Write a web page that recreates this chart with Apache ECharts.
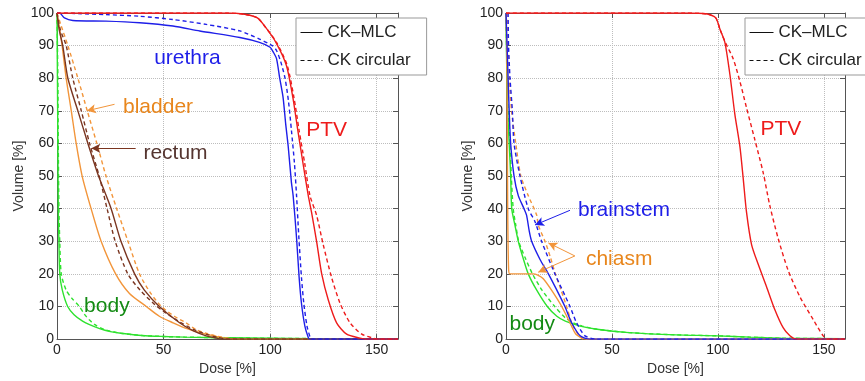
<!DOCTYPE html>
<html><head><meta charset="utf-8">
<script src="https://cdn.jsdelivr.net/npm/echarts@6/dist/echarts.min.js"></script>
<style>html,body{margin:0;padding:0;background:#fff}#c{width:865px;height:381px}</style>
</head><body><div id="c"></div>
<script>
// ---------- data: [dose %, volume %] ----------
// Left panel (prostate)
const ptvMlcL = [[0,100],[80,100],[88,99.6],[94,98.5],[98,95.5],[102.7,91],[107.6,84],[110.7,74],[113,64],[115.4,54],[117.9,44],[119.4,39],[121.8,30],[124.2,20],[127.3,12],[131.2,5],[135.9,1.5],[142.2,0.3],[145,0],[160,0]];
const ptvCircL = [[0,100],[80,100],[88,99.6],[94,98.5],[98,95.5],[103,91],[108,84],[111.2,74],[113.6,64],[116.2,54],[118.7,44],[121.8,38],[124.9,29],[128.8,19],[132.8,11],[137.5,5],[143,1.5],[148.4,0.3],[150,0],[160,0]];
const urethraMlc = [[0,100],[1.2,100],[3.5,98.5],[7.4,97.7],[23,97.5],[38.8,97],[54.4,96],[67,94.5],[85.8,92.5],[95,91],[100,89.5],[101.5,88],[103,86],[104.5,80],[106.1,74],[107.3,66],[108.5,59],[110,48],[110.8,44],[112.4,31],[113.6,19],[114.7,11],[116.3,4],[117.9,0.5],[118.5,0],[160,0]];
const urethraCirc = [[0,100],[10,99.8],[23,99.5],[38.8,99],[54.4,98],[70,96.5],[85.8,94.5],[95,92],[101,90],[103,88.5],[105,85],[107,80],[108.6,73],[110,64],[111.4,54],[112.4,44],[113.5,31],[114.7,19],[115.8,11],[117.3,4],[118.8,0.5],[119.5,0],[160,0]];
const bladderMlc = [[0,100],[1,96],[2.4,90],[4.3,80],[6.7,70],[9,60],[11.8,50],[16,40],[20.7,30],[27.5,20],[34,14],[41.9,10],[48,7],[54.5,5],[61,3.2],[67,2],[72,1.2],[76,0.6],[80,0.2],[85,0],[160,0]];
const bladderCirc = [[0,100],[2,96],[5.1,90],[9.8,80],[14.2,70],[18.7,60],[23,50],[28,40],[33.3,30],[38.7,20],[44,14],[49,10],[55,7],[60.5,5],[65,3],[70,1.8],[75,0.9],[80,0.3],[83,0],[160,0]];
const rectumMlc = [[0,100],[1,95],[2.7,90],[5.1,80],[9.8,70],[14.5,60],[19.5,50],[25.4,40],[30,30],[36.4,20],[41,15],[48,10],[57.5,5],[64,2.5],[70,1],[74,0.4],[77,0],[160,0]];
const rectumCirc = [[0,100],[1.5,95],[4.3,90],[7.4,80],[11.4,70],[15.3,60],[19.8,50],[23.5,40],[27.3,30],[33.2,20],[39,15],[46,10.5],[50,8.5],[57,5.5],[64,3],[70,1.5],[75,0.6],[80,0],[160,0]];
const bodyMlcL = [[0,100],[0.2,80],[0.4,60],[0.6,40],[0.9,30],[1.3,20],[2.5,15],[5,10],[8,7.5],[12,5.5],[15,4.5],[20,3.2],[25,2.3],[30,1.8],[40,1.1],[50,0.8],[60,0.6],[80,0.4],[100,0.25],[120,0.15],[160,0.05]];
const bodyCircL = [[0,100],[0.4,80],[0.6,60],[0.9,40],[1.3,30],[2,20],[4.3,15],[7,12.5],[10.5,10],[13,7.5],[15,6],[17.6,4.5],[22,3],[30,1.8],[40,1.1],[50,0.8],[60,0.6],[80,0.4],[100,0.25],[120,0.15],[160,0.05]];
// Right panel (head)
const ptvMlcR = [[0,100],[85,100],[95,99.7],[99,98.5],[101,95],[103.3,91],[105.7,81],[108,69],[110.4,59],[112,49],[113.5,39],[115.9,29],[119,23],[123,16],[126.9,9],[130.8,3.5],[134,1],[137,0],[160,0]];
const ptvCircR = [[0,100],[85,100],[95,99.7],[99,98.5],[101,95],[103.5,91],[107.2,86],[110.4,79],[113.5,71],[117.5,61],[121.4,51],[124.5,41],[128.4,31],[133.2,21],[138.7,13],[145,6],[149.7,1],[152,0],[160,0]];
const brainstemMlc = [[0,100],[0.5,90],[1,80],[1.5,70],[2.2,60],[3.8,50],[5.8,44],[8.5,40],[9.7,38],[11,33],[12.1,30],[16,24.5],[20,20],[24,15],[27.8,10],[31,5],[35,1],[39.6,0],[160,0]];
const brainstemCirc = [[1,100],[1.2,90],[1.9,80],[3,70],[3.8,60],[6.6,50],[10.5,40],[13.7,36],[16.8,30],[23.1,20],[30.2,10],[33.3,5],[37.3,1],[42.8,0],[160,0]];
const chiasmMlc = [[0,100],[0.3,90],[0.5,77],[0.8,40],[1.2,22],[1.8,20],[12.9,20],[15,19.6],[17.6,18.5],[21.5,15],[26.3,10],[30.2,5],[33,1.5],[36.5,0.2],[38,0],[160,0]];
const chiasmCirc = [[0.5,100],[1,90],[1.6,80],[2.6,70],[4.6,60],[7,50],[10.5,44],[14.5,38],[15.2,35],[18.4,30],[21,25],[23.3,20],[26,15],[28.6,10],[31,5],[32.5,3],[36.5,0],[160,0]];
const bodyMlcR = [[0,100],[0.3,85],[0.8,70],[1.5,60],[2.2,50],[2.7,40],[4.2,35],[5.8,30],[8,25],[10.5,20],[14.5,15],[19.5,10],[24,7],[28,5.5],[35,4],[43,3],[58,2],[80,1.3],[100,1],[115,0.6],[130,0.3],[160,0.1]];
const bodyCircR = [[0,100],[0.4,85],[1,70],[1.9,60],[2.5,50],[3.4,40],[4.6,35],[6,30],[9,25],[12.5,20],[17,15],[23,10],[28,6.5],[31.8,5],[36,4],[43,3],[58,2],[80,1.3],[100,1],[115,0.6],[130,0.3],[160,0.1]];

const xTicks = [0, 50, 100, 150];
const legendNames = ['CK\u2013MLC', 'CK circular'];

// annotations: [dose, volume, text, colour]
const labelsL = [[61.2,86,'urethra','blue'],[47.4,71,'bladder','orangeText'],[55.6,57,'rectum','brownText'],[126.5,64,'PTV','red'],[23.4,10,'body','greenText']];
const labelsR = [[55.7,39.5,'brainstem','blue'],[53.4,24.5,'chiasm','orangeText'],[129.7,64.5,'PTV','red'],[12.4,4.5,'body','greenText']];
// arrows: [fromDose, fromVol, toDose, toVol, colour]
const arrowsL = [[27,72,14,70,'orange'],[36.9,58.5,16.1,58.5,'brown']];
const arrowsR = [[30.2,39.5,13.7,35,'blue'],[32.5,25.5,20,29.5,'orange'],[32.5,25.5,15.2,20.5,'orange']];

const C = {red:'#ee1b1b', blue:'#1e1ee8', orange:'#f2953a', brown:'#7a3520', green:'#2ee22e',
           orangeText:'#e8861c', brownText:'#553530', greenText:'#138a13'};
const FONT = 'Liberation Sans, Arial, sans-serif';

function line(name, data, color, dashed, g) {
  return {type:'line', name: name, data: data, xAxisIndex: g*2, yAxisIndex: g*2,
    symbol:'none', showSymbol:false, smooth:0.25, silent:true, z:3,
    lineStyle:{color:color, width:1.4, type: dashed ? [4,3] : 'solid'}, itemStyle:{color:color}};
}
function annot(g, labels, arrows) {
  return {type:'line', name:'annot'+g, data:[[0,0]], xAxisIndex:g*2, yAxisIndex:g*2,
    symbol:'none', lineStyle:{opacity:0}, silent:true, z:5,
    markPoint:{symbol:'circle', symbolSize:0, silent:true, itemStyle:{color:'transparent'},
      data: labels.map(l => ({coord:[l[0],l[1]], value:l[2],
        label:{show:true, position:'inside', formatter:l[2], color:C[l[3]], fontSize:21, fontFamily:FONT}}))},
    markLine:{silent:true, symbol:['none','arrow'], symbolSize:[7,9], label:{show:false},
      data: arrows.map(a => [{coord:[a[0],a[1]], lineStyle:{color:C[a[4]], width:1, type:'solid'}}, {coord:[a[2],a[3]]}])}
  };
}
function xAx(g, main) {
  return {type:'value', gridIndex:g, min:0, max:160, interval:50, position: main?'bottom':'top',
    name: main ? 'Dose [%]' : '', nameLocation:'middle', nameGap:18,
    nameTextStyle:{fontSize:14, color:'#333', fontFamily:FONT},
    axisLine:{show:true, onZero:false, lineStyle:{color:'#555', width:1}},
    axisTick:{show:true, inside:true, length:5, lineStyle:{color:'#555'}},
    axisLabel:{show:main, margin:4, fontSize:14, color:'#222', fontFamily:FONT, showMaxLabel:false},
    splitLine:{show:main, lineStyle:{type:'dotted', color:'#bdbdbd', width:1}}};
}
function yAx(g, main) {
  return {type:'value', gridIndex:g, min:0, max:100, interval:10, position: main?'left':'right',
    name: main ? 'Volume [%]' : '', nameLocation:'middle', nameGap:31,
    nameTextStyle:{fontSize:14, color:'#333', fontFamily:FONT},
    axisLine:{show:true, onZero:false, lineStyle:{color:'#555', width:1}},
    axisTick:{show:true, inside:true, length:5, lineStyle:{color:'#555'}},
    axisLabel:{show:main, margin:3, fontSize:14, color:'#222', fontFamily:FONT},
    splitLine:{show:main, lineStyle:{type:'dotted', color:'#bdbdbd', width:1}}};
}
function legend(left, iw) {
  return {show:true, data:legendNames, orient:'vertical', left:left, top:18,
    itemWidth:iw, itemHeight:14, itemGap:11, padding:[6,16,6,4],
    borderColor:'#999', borderWidth:1, backgroundColor:'#fff', selectedMode:false,
    itemStyle:{opacity:0}, lineStyle:{width:1},
    textStyle:{fontSize:17, color:'#222', fontFamily:FONT}};
}

const chart = echarts.init(document.getElementById('c'), null, {renderer:'canvas'});
chart.setOption({
  animation:false, backgroundColor:'#fff',
  grid:[{left:57, top:13, width:341, height:334},{left:506, top:13, width:339, height:334}],
  xAxis:[xAx(0,true), xAx(0,false), xAx(1,true), xAx(1,false)],
  yAxis:[yAx(0,true), yAx(0,false), yAx(1,true), yAx(1,false)],
  legend:[legend(296,22), legend(745,24)],
  series:[
    line(legendNames[0], [], '#111', false, 0),
    line(legendNames[1], [], '#111', true, 0),
    line('bodyL', bodyMlcL, C.green, false, 0),
    line('bodyLc', bodyCircL, C.green, true, 0),
    line('bladder', bladderMlc, C.orange, false, 0),
    line('bladderc', bladderCirc, C.orange, true, 0),
    line('rectum', rectumMlc, C.brown, false, 0),
    line('rectumc', rectumCirc, C.brown, true, 0),
    line('urethra', urethraMlc, C.blue, false, 0),
    line('urethrac', urethraCirc, C.blue, true, 0),
    line('ptvL', ptvMlcL, C.red, false, 0),
    line('ptvLc', ptvCircL, C.red, true, 0),
    annot(0, labelsL, arrowsL),
    line('bodyR', bodyMlcR, C.green, false, 1),
    line('bodyRc', bodyCircR, C.green, true, 1),
    line('chiasm', chiasmMlc, C.orange, false, 1),
    line('chiasmc', chiasmCirc, C.orange, true, 1),
    line('brainstem', brainstemMlc, C.blue, false, 1),
    line('brainstemc', brainstemCirc, C.blue, true, 1),
    line('ptvR', ptvMlcR, C.red, false, 1),
    line('ptvRc', ptvCircR, C.red, true, 1),
    annot(1, labelsR, arrowsR)
  ]
});
</script></body></html>
